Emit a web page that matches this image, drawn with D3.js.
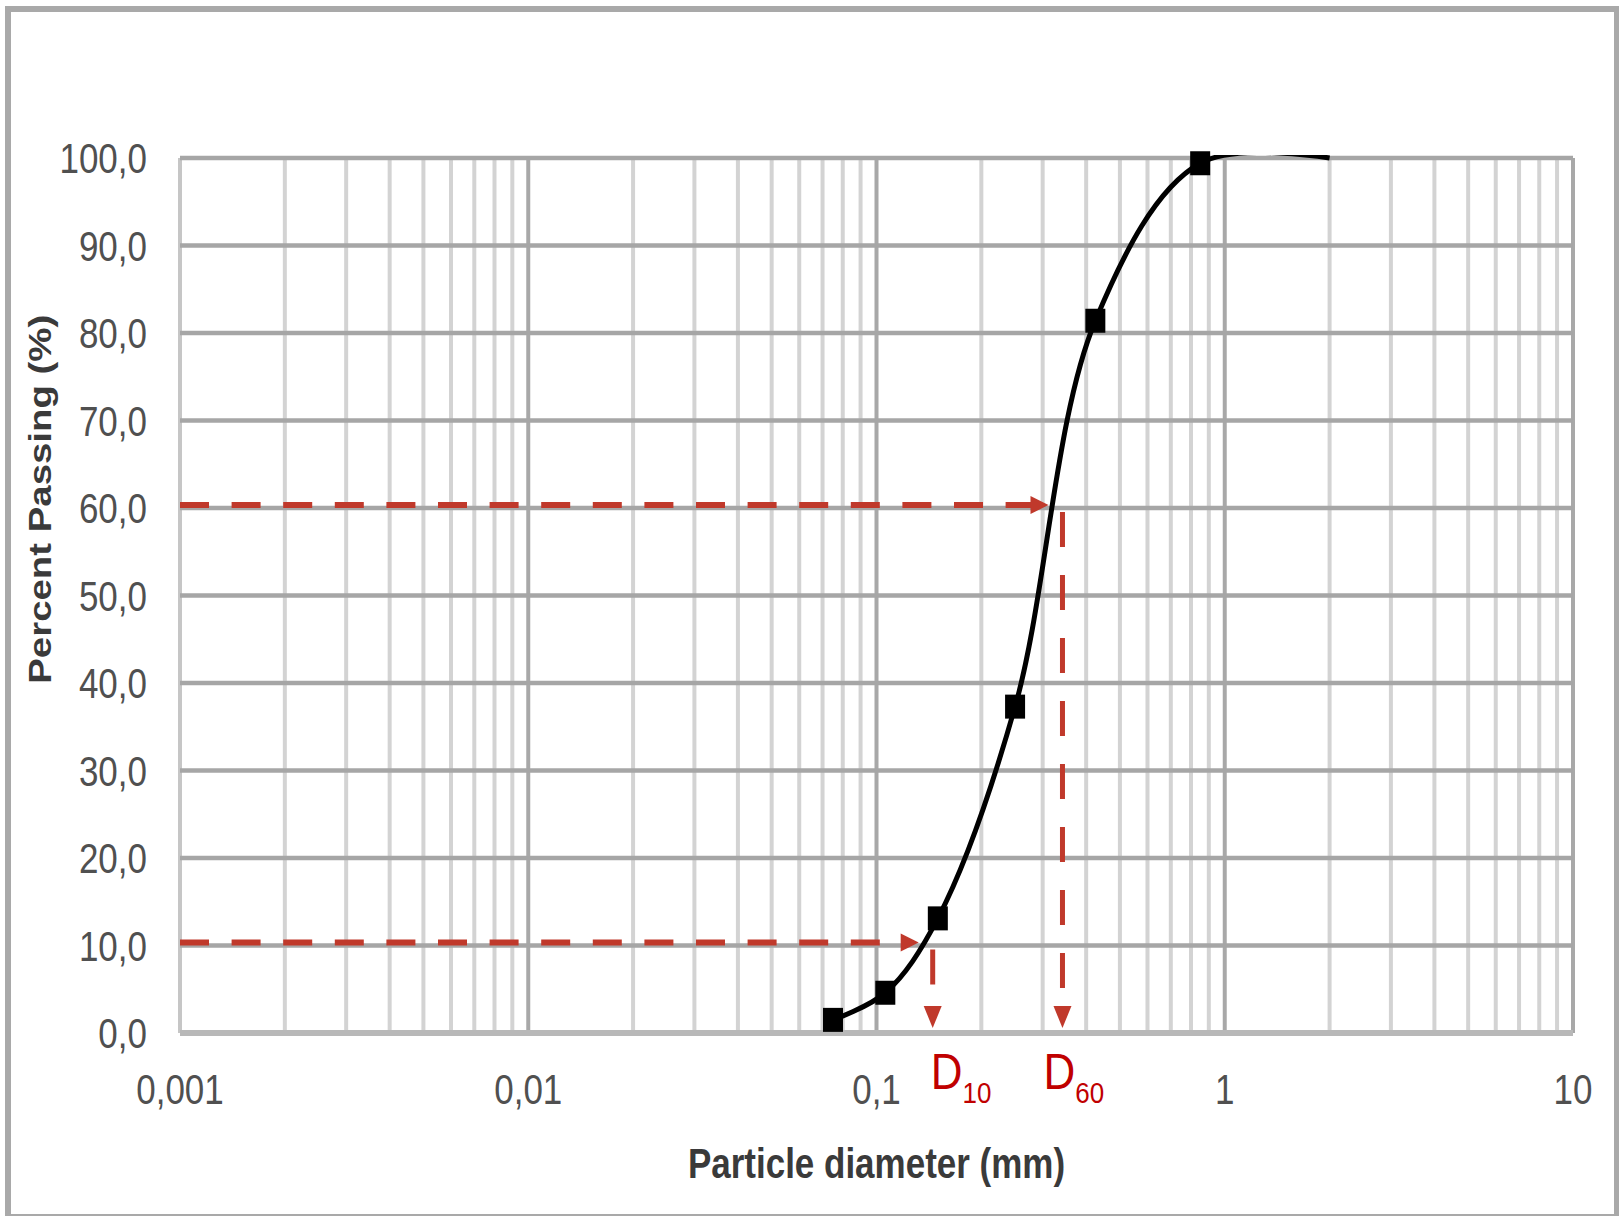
<!DOCTYPE html>
<html>
<head>
<meta charset="utf-8">
<script src="https://cdn.jsdelivr.net/npm/d3@7"></script>
<style>
  body { margin: 0; background: #fff; }
  svg { display: block; }
  text { font-family: "Liberation Sans", Arial, sans-serif; }
</style>
</head>
<body>
<div id="chart"></div>
<script>
// sieve sizes (mm) and percent passing
const sizes = [0.075, 0.106, 0.15, 0.25, 0.425, 0.85, 2.0];
const passing = [1.5, 4.6, 13.1, 37.3, 81.4, 99.4, 100];
const showMarker = [true, true, true, true, true, true, false];

// axis ticks
const xTicks = [0.001, 0.01, 0.1, 1, 10];
const xTickLabels = ["0,001", "0,01", "0,1", "1", "10"];
const yTicks = [0, 10, 20, 30, 40, 50, 60, 70, 80, 90, 100];
const yTickLabels = ["0,0", "10,0", "20,0", "30,0", "40,0", "50,0", "60,0", "70,0", "80,0", "90,0", "100,0"];

// characteristic diameters
const dNames = ["10", "60"];
const dPercent = [10, 60];
const dSize = [0.145, 0.342];

const totalW = 1619, totalH = 1216;
const margin = { top: 158, right: 46, bottom: 183, left: 180 };
const width = totalW - margin.left - margin.right;
const height = totalH - margin.top - margin.bottom;

const svgRoot = d3.select("#chart").append("svg")
    .attr("width", totalW)
    .attr("height", totalH);

// outer frame
svgRoot.append("rect")
    .attr("x", 8).attr("y", 9)
    .attr("width", 1609).attr("height", 1208)
    .attr("fill", "none")
    .attr("stroke", "#a9a9a9")
    .attr("stroke-width", 6);

const svg = svgRoot.append("g")
    .attr("transform", "translate(" + margin.left + "," + margin.top + ")");

const x = d3.scaleLog().domain([0.001, 10]).range([0, width]);
const y = d3.scaleLinear().domain([0, 100]).range([height, 0]);

// minor vertical gridlines
const minor = [];
xTicks.slice(0, -1).forEach(function (d) {
    for (let k = 2; k <= 9; k++) minor.push(d * k);
});
svg.selectAll(".minor")
    .data(minor)
    .enter().append("line")
    .attr("x1", d => x(d)).attr("x2", d => x(d))
    .attr("y1", 0).attr("y2", height)
    .attr("stroke", "#d3d3d3")
    .attr("stroke-width", 4);

// major vertical gridlines
svg.selectAll(".major")
    .data(xTicks)
    .enter().append("line")
    .attr("x1", d => x(d)).attr("x2", d => x(d))
    .attr("y1", 0).attr("y2", height)
    .attr("stroke", (d, i) => i === 0 ? "#c6c6c6" : "#a8a8a8")
    .attr("stroke-width", 4);

// horizontal gridlines
svg.selectAll(".hgrid")
    .data(yTicks)
    .enter().append("line")
    .attr("x1", 0).attr("x2", width)
    .attr("y1", d => y(d)).attr("y2", d => y(d))
    .attr("stroke", d => d === 0 ? "#b8b8b8" : "#a6a6a6")
    .attr("stroke-width", d => d === 0 ? 6 : 4.5);

// y tick labels
svg.selectAll(".ylab")
    .data(yTicks)
    .enter().append("text")
    .attr("transform", d => "translate(-33," + y(d) + ") scale(1,1.2)")
    .attr("dy", "0.36em")
    .attr("text-anchor", "end")
    .attr("font-size", 35)
    .attr("fill", "#505050")
    .text((d, i) => yTickLabels[i]);

// x tick labels
svg.selectAll(".xlab")
    .data(xTicks)
    .enter().append("text")
    .attr("transform", d => "translate(" + x(d) + "," + (height + 71) + ") scale(1,1.2)")
    .attr("text-anchor", "middle")
    .attr("font-size", 35)
    .attr("fill", "#505050")
    .text((d, i) => xTickLabels[i]);

// axis titles
svg.append("text")
    .attr("transform", "translate(" + x(0.1) + "," + (height + 145) + ") scale(1,1.2)")
    .attr("text-anchor", "middle")
    .attr("font-size", 35)
    .attr("font-weight", "bold")
    .attr("fill", "#3a3a3a")
    .text("Particle diameter (mm)");

svg.append("text")
    .attr("transform", "translate(-141," + y(61) + ") rotate(-90) scale(1.2,1)")
    .attr("dy", "0.36em")
    .attr("text-anchor", "middle")
    .attr("font-size", 32)
    .attr("font-weight", "bold")
    .attr("fill", "#3a3a3a")
    .text("Percent Passing (%)");

// red construction lines for D10 / D60
const red = "#c0392b";
const dData = dNames.map((n, i) => ({ name: n, pct: dPercent[i], size: dSize[i] }));
const labelDx = [-2, -19];

dData.forEach(function (d, i) {
    const xd = x(d.size);
    const yd = y(d.pct);
    const tipX = xd - 14;
    // horizontal dashed arrow
    svg.append("line")
        .attr("x1", 0).attr("x2", tipX - 16)
        .attr("y1", yd - 3).attr("y2", yd - 3)
        .attr("stroke", red).attr("stroke-width", 6)
        .attr("stroke-dasharray", "29,22.6");
    svg.append("path")
        .attr("d", "M" + tipX + "," + (yd - 3) + "L" + (tipX - 18) + "," + (yd - 12) + "L" + (tipX - 18) + "," + (yd + 6) + "Z")
        .attr("fill", red);
    // vertical dashed arrow
    const tipY = y(0) - 5;
    svg.append("line")
        .attr("x1", xd).attr("x2", xd)
        .attr("y1", yd + 4).attr("y2", tipY - 22)
        .attr("stroke", red).attr("stroke-width", 5)
        .attr("stroke-dasharray", "35,28");
    svg.append("path")
        .attr("d", "M" + xd + "," + tipY + "L" + (xd - 9) + "," + (tipY - 22) + "L" + (xd + 9) + "," + (tipY - 22) + "Z")
        .attr("fill", red);
    // label
    const t = svg.append("text")
        .attr("transform", "translate(" + (xd + labelDx[i]) + "," + (height + 56) + ") scale(1,1.15)")
        .attr("font-size", 44)
        .attr("fill", "#c00000");
    t.append("tspan").text("D");
    t.append("tspan").attr("font-size", 26).attr("dy", 12).text(d.name);
});

// grading curve (clipped to plot area, like the spreadsheet chart)
svg.append("clipPath").attr("id", "plotclip")
    .append("rect").attr("x", 0).attr("y", -3).attr("width", width).attr("height", height + 3);

const pts = sizes.map((s, i) => ({ size: s, pct: passing[i], marker: showMarker[i] }));

const line = d3.line()
    .x(d => x(d.size))
    .y(d => y(d.pct))
    .curve(d3.curveCatmullRom.alpha(0.5));

svg.append("path")
    .datum(pts)
    .attr("clip-path", "url(#plotclip)")
    .attr("fill", "none")
    .attr("stroke", "#000")
    .attr("stroke-width", 5)
    .attr("d", line);

svg.selectAll(".pt")
    .data(pts.filter(d => d.marker))
    .enter().append("rect")
    .attr("x", d => x(d.size) - 10)
    .attr("y", d => y(d.pct) - 12)
    .attr("width", 20)
    .attr("height", 24)
    .attr("fill", "#000");
</script>
</body>
</html>
